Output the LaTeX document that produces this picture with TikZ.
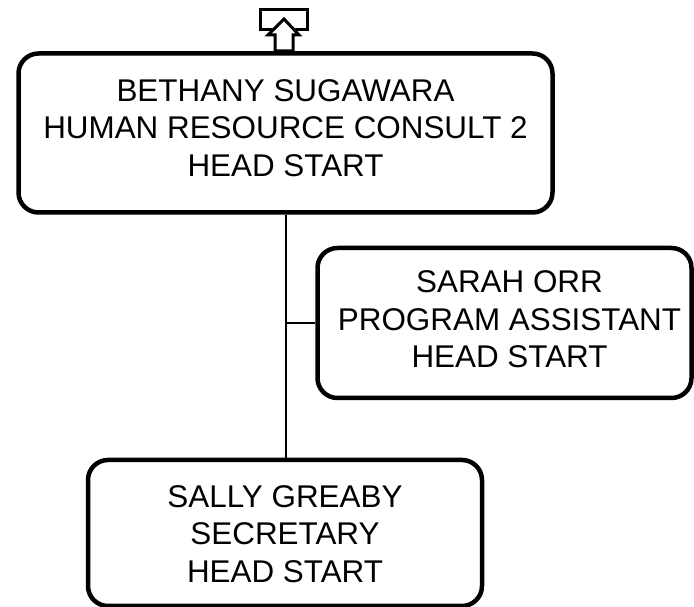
\documentclass[tikz,border=0pt]{standalone}
\usepackage{fontspec}
\setmainfont{Liberation Sans}
\begin{document}
\begin{tikzpicture}[x=1pt,y=1pt,
  card/.style={draw=black, line width=4.5pt, rounded corners=20pt, fill=white, inner sep=0pt},
  txt/.style={align=center, inner sep=0pt, font=\fontsize{31.4}{37.5}\selectfont},
  link/.style={draw=black, line width=2pt}]
\useasboundingbox (0,0) rectangle (694,607);
% boxes (y = 607 - pixel row)
\node[card, minimum width=534pt, minimum height=159pt] (top) at (285.5,474) {};
\node[txt] (topt) at ([yshift=5pt]top.center)
  {BETHANY SUGAWARA\\HUMAN RESOURCE CONSULT 2\\HEAD START};
\node[card, minimum width=374pt, minimum height=150pt] (mid) at (504.5,284) {};
\node[txt] (midt) at ([xshift=5pt,yshift=3.5pt]mid.center)
  {SARAH ORR\\PROGRAM ASSISTANT\\HEAD START};
\node[card, minimum width=394pt, minimum height=146pt] (bot) at (285,74) {};
\node[txt] (bott) at ([yshift=-1pt]bot.center)
  {SALLY GREABY\\SECRETARY\\HEAD START};
% connectors
\coordinate (j) at (top.south |- bot.north);
\draw[link] (top.south) -- (j);
\draw[link] (mid.west) -- (mid.west -| top.south);
% up-arrow icon
\node[draw=black, line width=3pt, minimum width=47pt, minimum height=20pt, inner sep=0pt] (icon) at (284,587.5) {};
\draw[line width=3pt, fill=white, line join=miter]
  (284,588) -- (299,572) -- (293,572) -- (293,556) -- (275,556) -- (275,572) -- (268,572) -- cycle;
\end{tikzpicture}
\end{document}
